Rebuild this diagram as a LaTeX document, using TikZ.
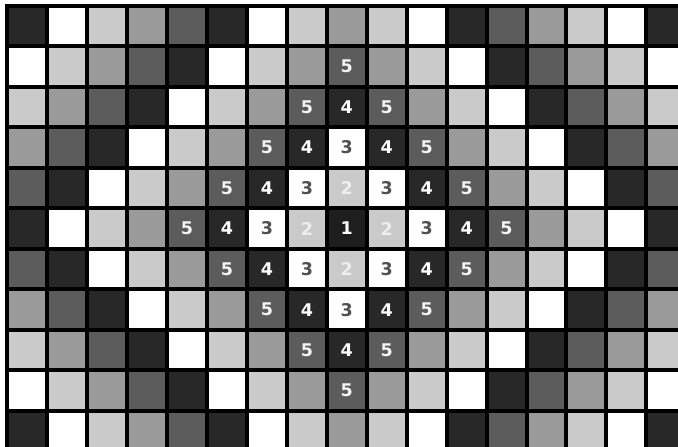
\documentclass[tikz,border=0pt]{standalone}
\usepackage{fontspec}
\setmainfont{DejaVu Sans}
\definecolor{gm0}{HTML}{9A9A9A}
\definecolor{gm1}{HTML}{CACACA}
\definecolor{gm2}{HTML}{FFFFFF}
\definecolor{gm3}{HTML}{282828}
\definecolor{gm4}{HTML}{5C5C5C}
\definecolor{gcenter}{HTML}{1E1E1E}
\definecolor{tn1}{HTML}{FFFFFF}
\definecolor{tn2}{HTML}{EEEEEE}
\definecolor{tn3}{HTML}{505050}
\definecolor{tn4}{HTML}{FFFFFF}
\definecolor{tn5}{HTML}{F4F4F4}
\begin{document}
\begin{tikzpicture}[x=1pt,y=-1pt,
  numlabel/.style={font=\fontsize{17.5}{20}\selectfont\bfseries, inner sep=0pt}]
\useasboundingbox (0,0) rectangle (678,447);
\clip (0,0) rectangle (678,447);
\fill[white] (0,0) rectangle (678,447);
\fill[black] (5.3,3.7) rectangle (700,460);
\foreach \i in {0,...,16}{
  \foreach \j in {0,...,10}{
    \pgfmathsetmacro\xa{7.3+39.94*\i+2}
    \pgfmathsetmacro\xb{7.3+39.94*(\i+1)-2}
    \pgfmathsetmacro\ya{5.7+40.53*\j+2}
    \pgfmathsetmacro\yb{5.7+40.53*(\j+1)-2}
    \pgfmathtruncatemacro\dd{abs(\i-8)+abs(\j-5)}
    \pgfmathtruncatemacro\mm{mod(\dd,5)}
    \ifnum\dd=0
      \fill[gcenter] (\xa,\ya) rectangle (\xb,\yb);
    \else
      \fill[gm\mm] (\xa,\ya) rectangle (\xb,\yb);
    \fi
    \ifnum\dd<5
      \pgfmathtruncatemacro\lab{\dd+1}
      \node[numlabel, text=tn\lab] (n-\i-\j) at ({(\xa+\xb)/2},{(\ya+\yb)/2}) {\lab};
    \fi
  }
}
\end{tikzpicture}
\end{document}
